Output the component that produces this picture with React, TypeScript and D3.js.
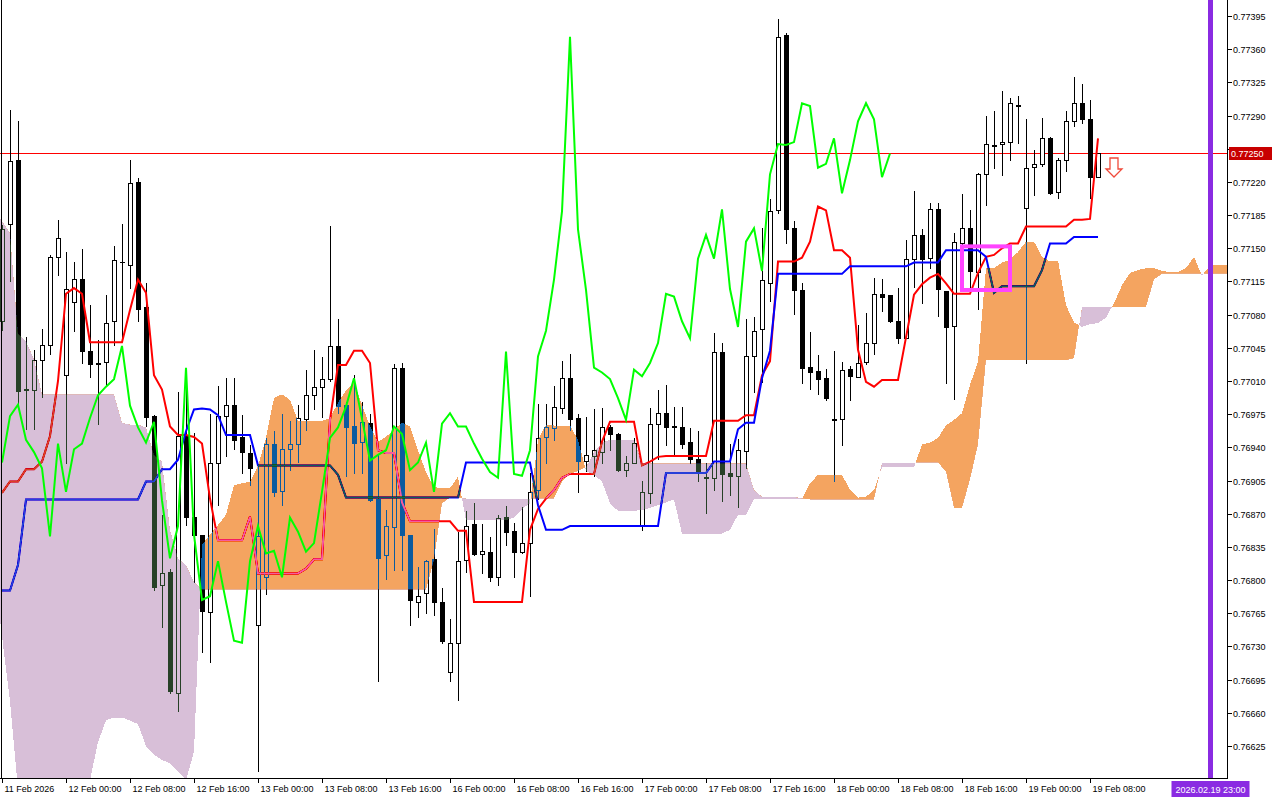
import React from "react";
import * as d3 from "d3";

// ---------- DATA (hourly bars, 11 Feb 2026 16:00 -> 19 Feb 2026 09:00) ----------
const opens = [
  0.77073, 0.77176, 0.77243, 0.77002, 0.77000, 0.77032, 0.77048, 0.77141, 0.77016, 0.77093,
  0.77118, 0.77042, 0.77029, 0.77030, 0.77073, 0.77135, 0.77132, 0.77220, 0.77088, 0.76973,
  0.76795, 0.76809, 0.76681, 0.76953, 0.76867, 0.76848, 0.76766, 0.76923, 0.76973, 0.76985,
  0.76951, 0.76934, 0.76753, 0.76803, 0.76944, 0.76894, 0.76938, 0.76944, 0.76970, 0.76995,
  0.77004, 0.77012, 0.77047, 0.76985, 0.76963, 0.76946, 0.76966, 0.76886, 0.76826, 0.76856,
  0.77024, 0.76848, 0.76777, 0.76786, 0.76822, 0.76777, 0.76703, 0.76734, 0.76821, 0.76859,
  0.76828, 0.76830, 0.76803, 0.76867, 0.76852, 0.76830, 0.76839, 0.76895, 0.76951, 0.76960,
  0.76982, 0.77013, 0.76971, 0.76926, 0.76931, 0.76935, 0.76962, 0.76954, 0.76916, 0.76924,
  0.76857, 0.76892, 0.76965, 0.76976, 0.76963, 0.76961, 0.76946, 0.76928, 0.76909, 0.76908,
  0.77041, 0.76913, 0.76910, 0.76936, 0.77036, 0.77065, 0.77113, 0.77190, 0.77375, 0.77171,
  0.77106, 0.77025, 0.77021, 0.77013, 0.76970, 0.76970, 0.77023, 0.77014, 0.77030, 0.77050,
  0.77102, 0.77101, 0.77073, 0.77055, 0.77139, 0.77164, 0.77140, 0.77191, 0.77105, 0.77068,
  0.77156, 0.77171, 0.77125, 0.77228, 0.77258, 0.77260, 0.77262, 0.77301, 0.77193, 0.77236,
  0.77239, 0.77266, 0.77209, 0.77243, 0.77284, 0.77303, 0.77286, 0.77225,
];
const highs = [
  0.77175, 0.77296, 0.77284, 0.77056, 0.77043, 0.77065, 0.77143, 0.77180, 0.77146, 0.77135,
  0.77149, 0.77090, 0.77053, 0.77101, 0.77152, 0.77176, 0.77243, 0.77224, 0.77113, 0.76974,
  0.76869, 0.76812, 0.76998, 0.77003, 0.76955, 0.76848, 0.76975, 0.77005, 0.77013, 0.77013,
  0.76974, 0.76943, 0.76920, 0.76950, 0.76957, 0.76975, 0.76968, 0.76985, 0.77022, 0.77043,
  0.77035, 0.77173, 0.77075, 0.76988, 0.77016, 0.76988, 0.76975, 0.76932, 0.76874, 0.77028,
  0.77029, 0.76848, 0.76814, 0.76821, 0.76854, 0.76792, 0.76759, 0.76851, 0.76873, 0.76881,
  0.76859, 0.76845, 0.76869, 0.76878, 0.76860, 0.76877, 0.76913, 0.76986, 0.76986, 0.77005,
  0.77031, 0.77039, 0.76975, 0.76972, 0.76980, 0.76982, 0.76964, 0.76955, 0.76931, 0.76950,
  0.76905, 0.76981, 0.77001, 0.77006, 0.76983, 0.76983, 0.76960, 0.76957, 0.76924, 0.77061,
  0.77050, 0.76944, 0.76949, 0.77075, 0.77078, 0.77171, 0.77202, 0.77392, 0.77377, 0.77179,
  0.77113, 0.77062, 0.77037, 0.77023, 0.77042, 0.77030, 0.77026, 0.77069, 0.77082, 0.77119,
  0.77118, 0.77101, 0.77108, 0.77159, 0.77210, 0.77170, 0.77198, 0.77198, 0.77105, 0.77166,
  0.77207, 0.77190, 0.77229, 0.77290, 0.77295, 0.77316, 0.77309, 0.77311, 0.77286, 0.77254,
  0.77287, 0.77267, 0.77245, 0.77295, 0.77331, 0.77323, 0.77306, 0.77250,
];
const lows = [
  0.77064, 0.77115, 0.76986, 0.76959, 0.76959, 0.76993, 0.77039, 0.77122, 0.76923, 0.77063,
  0.77029, 0.77014, 0.76965, 0.77005, 0.77048, 0.77052, 0.77108, 0.77073, 0.76963, 0.76790,
  0.76751, 0.76681, 0.76662, 0.76858, 0.76798, 0.76724, 0.76714, 0.76879, 0.76931, 0.76938,
  0.76913, 0.76900, 0.76599, 0.76785, 0.76889, 0.76879, 0.76916, 0.76925, 0.76958, 0.76980,
  0.76972, 0.77010, 0.76976, 0.76910, 0.76913, 0.76913, 0.76883, 0.76694, 0.76801, 0.76811,
  0.76811, 0.76753, 0.76761, 0.76765, 0.76763, 0.76734, 0.76694, 0.76673, 0.76809, 0.76826,
  0.76808, 0.76799, 0.76795, 0.76837, 0.76803, 0.76829, 0.76783, 0.76886, 0.76923, 0.76948,
  0.76976, 0.76958, 0.76893, 0.76915, 0.76910, 0.76923, 0.76937, 0.76915, 0.76910, 0.76923,
  0.76853, 0.76881, 0.76928, 0.76942, 0.76931, 0.76939, 0.76924, 0.76905, 0.76871, 0.76895,
  0.76883, 0.76890, 0.76877, 0.76918, 0.76998, 0.77009, 0.77094, 0.77187, 0.77156, 0.77081,
  0.77008, 0.77002, 0.76996, 0.76990, 0.76904, 0.76942, 0.76990, 0.77014, 0.77028, 0.77039,
  0.77084, 0.77072, 0.77050, 0.77055, 0.77109, 0.77092, 0.77129, 0.77079, 0.77008, 0.76991,
  0.77148, 0.77106, 0.77086, 0.77196, 0.77235, 0.77227, 0.77243, 0.77261, 0.77029, 0.77206,
  0.77237, 0.77207, 0.77203, 0.77232, 0.77279, 0.77282, 0.77203, 0.77225,
];
const closes = [
  0.77170, 0.77242, 0.76999, 0.77000, 0.77032, 0.77048, 0.77141, 0.77161, 0.77107, 0.77118,
  0.77042, 0.77028, 0.77028, 0.77071, 0.77138, 0.77136, 0.77219, 0.77086, 0.76972, 0.76793,
  0.76807, 0.76683, 0.76952, 0.76867, 0.76848, 0.76767, 0.76924, 0.76973, 0.76985, 0.76948,
  0.76935, 0.76918, 0.76846, 0.76944, 0.76893, 0.76938, 0.76944, 0.76971, 0.76995, 0.77004,
  0.77012, 0.77047, 0.76984, 0.76961, 0.76945, 0.76967, 0.76884, 0.76823, 0.76857, 0.77024,
  0.76848, 0.76779, 0.76783, 0.76820, 0.76777, 0.76736, 0.76734, 0.76820, 0.76857, 0.76828,
  0.76831, 0.76803, 0.76866, 0.76851, 0.76830, 0.76839, 0.76893, 0.76950, 0.76961, 0.76983,
  0.77013, 0.76970, 0.76926, 0.76932, 0.76937, 0.76962, 0.76954, 0.76916, 0.76924, 0.76945,
  0.76893, 0.76965, 0.76976, 0.76962, 0.76962, 0.76944, 0.76928, 0.76914, 0.76908, 0.77041,
  0.76912, 0.76910, 0.76937, 0.77036, 0.77063, 0.77117, 0.77189, 0.77373, 0.77170, 0.77106,
  0.77024, 0.77019, 0.77012, 0.76992, 0.76969, 0.77022, 0.77015, 0.77029, 0.77050, 0.77102,
  0.77099, 0.77073, 0.77055, 0.77139, 0.77164, 0.77139, 0.77191, 0.77107, 0.77067, 0.77157,
  0.77171, 0.77126, 0.77228, 0.77260, 0.77259, 0.77262, 0.77303, 0.77300, 0.77235, 0.77239,
  0.77266, 0.77208, 0.77243, 0.77284, 0.77303, 0.77286, 0.77225, 0.77250,
];
const tenkan = [
  0.76892, 0.76904, 0.76904, 0.76917, 0.76917, 0.76925, 0.76952, 0.77010, 0.77102, 0.77108,
  0.77102, 0.77051, 0.77051, 0.77051, 0.77051, 0.77051, 0.77085, 0.77117, 0.77103, 0.77016,
  0.77001, 0.76962, 0.76953, 0.76953, 0.76951, 0.76944, 0.76886, 0.76842, 0.76842, 0.76842,
  0.76842, 0.76867, 0.76807, 0.76807, 0.76807, 0.76807, 0.76807, 0.76807, 0.76812, 0.76822,
  0.76822, 0.76969, 0.77027, 0.77027, 0.77042, 0.77042, 0.77029, 0.76937, 0.76934, 0.76934,
  0.76882, 0.76862, 0.76862, 0.76862, 0.76862, 0.76862, 0.76862, 0.76852, 0.76852, 0.76777,
  0.76777, 0.76777, 0.76777, 0.76777, 0.76777, 0.76777, 0.76853, 0.76875, 0.76886, 0.76895,
  0.76908, 0.76912, 0.76912, 0.76912, 0.76912, 0.76946, 0.76967, 0.76967, 0.76967, 0.76967,
  0.76921, 0.76925, 0.76930, 0.76931, 0.76931, 0.76931, 0.76931, 0.76931, 0.76931, 0.76968,
  0.76968, 0.76968, 0.76968, 0.76974, 0.76974, 0.77016, 0.77031, 0.77136, 0.77136, 0.77136,
  0.77140, 0.77157, 0.77194, 0.77190, 0.77148, 0.77148, 0.77140, 0.77043, 0.77009, 0.77004,
  0.77011, 0.77011, 0.77011, 0.77056, 0.77101, 0.77112, 0.77119, 0.77123, 0.77113, 0.77102,
  0.77102, 0.77102, 0.77124, 0.77141, 0.77143, 0.77150, 0.77155, 0.77155, 0.77173, 0.77173,
  0.77173, 0.77173, 0.77173, 0.77173, 0.77180, 0.77180, 0.77181, 0.77266,
];
const kijun = [
  0.76789, 0.76789, 0.76816, 0.76885, 0.76885, 0.76885, 0.76885, 0.76885, 0.76885, 0.76885,
  0.76885, 0.76885, 0.76885, 0.76885, 0.76885, 0.76885, 0.76885, 0.76885, 0.76904, 0.76904,
  0.76917, 0.76917, 0.76927, 0.76957, 0.76980, 0.76981, 0.76980, 0.76974, 0.76953, 0.76953,
  0.76953, 0.76953, 0.76921, 0.76921, 0.76921, 0.76921, 0.76921, 0.76921, 0.76921, 0.76921,
  0.76921, 0.76921, 0.76911, 0.76887, 0.76887, 0.76887, 0.76887, 0.76887, 0.76887, 0.76887,
  0.76887, 0.76887, 0.76887, 0.76887, 0.76887, 0.76887, 0.76887, 0.76887, 0.76924, 0.76924,
  0.76924, 0.76924, 0.76924, 0.76924, 0.76924, 0.76924, 0.76924, 0.76879, 0.76853, 0.76853,
  0.76853, 0.76857, 0.76857, 0.76857, 0.76857, 0.76857, 0.76857, 0.76857, 0.76857, 0.76857,
  0.76857, 0.76857, 0.76857, 0.76913, 0.76913, 0.76913, 0.76913, 0.76913, 0.76913, 0.76925,
  0.76925, 0.76925, 0.76959, 0.76966, 0.76966, 0.77013, 0.77042, 0.77123, 0.77123, 0.77123,
  0.77123, 0.77123, 0.77123, 0.77123, 0.77123, 0.77123, 0.77131, 0.77131, 0.77131, 0.77131,
  0.77131, 0.77131, 0.77131, 0.77131, 0.77135, 0.77135, 0.77135, 0.77135, 0.77148, 0.77148,
  0.77148, 0.77148, 0.77148, 0.77141, 0.77103, 0.77110, 0.77110, 0.77110, 0.77110, 0.77110,
  0.77127, 0.77155, 0.77155, 0.77155, 0.77162, 0.77162, 0.77162, 0.77162,
];
// Senkou spans as drawn (already shifted 26 bars forward), bars 0..154
const spanA = [
  0.76758, 0.76672, 0.76579, 0.76568, 0.76568, 0.76568, 0.76568, 0.76568, 0.76568, 0.76568,
  0.76568, 0.76589, 0.76629, 0.76652, 0.76655, 0.76655, 0.76652, 0.76648, 0.76625, 0.76616,
  0.76610, 0.76607, 0.76598, 0.76589, 0.76619, 0.76837, 0.76848, 0.76858, 0.76869, 0.76900,
  0.76902, 0.76904, 0.76920, 0.76950, 0.76992, 0.76996, 0.76990, 0.76968, 0.76968, 0.76968,
  0.76968, 0.76971, 0.76987, 0.77000, 0.77008, 0.76985, 0.76962, 0.76946, 0.76951, 0.76959,
  0.76966, 0.76962, 0.76937, 0.76914, 0.76898, 0.76897, 0.76897, 0.76909, 0.76863, 0.76863,
  0.76863, 0.76863, 0.76863, 0.76863, 0.76866, 0.76875, 0.76881, 0.76948, 0.76964, 0.76963,
  0.76963, 0.76963, 0.76948, 0.76915, 0.76911, 0.76904, 0.76881, 0.76873, 0.76873, 0.76873,
  0.76874, 0.76876, 0.76879, 0.76882, 0.76885, 0.76849, 0.76849, 0.76849, 0.76849, 0.76849,
  0.76849, 0.76853, 0.76869, 0.76869, 0.76885, 0.76886, 0.76886, 0.76886, 0.76886, 0.76886,
  0.76885, 0.76902, 0.76911, 0.76911, 0.76911, 0.76911, 0.76895, 0.76887, 0.76888, 0.76895,
  0.76919, 0.76919, 0.76919, 0.76919, 0.76919, 0.76943, 0.76945, 0.76950, 0.76963, 0.76969,
  0.76976, 0.77006, 0.77030, 0.77129, 0.77129, 0.77135, 0.77138, 0.77146, 0.77157, 0.77157,
  0.77141, 0.77136, 0.77137, 0.77090, 0.77072, 0.77067, 0.77070, 0.77071, 0.77077, 0.77092,
  0.77111, 0.77124, 0.77127, 0.77129, 0.77129, 0.77126, 0.77125, 0.77125, 0.77129, 0.77141,
  0.77121, 0.77132, 0.77132, 0.77132, 0.77132,
];
const spanB = [
  0.77182, 0.77166, 0.77060, 0.77052, 0.77033, 0.76996, 0.76996, 0.76996, 0.76996, 0.76996,
  0.76996, 0.76996, 0.76996, 0.76996, 0.76996, 0.76966, 0.76964, 0.76964, 0.76961, 0.76932,
  0.76925, 0.76853, 0.76823, 0.76816, 0.76798, 0.76790, 0.76790, 0.76790, 0.76790, 0.76790,
  0.76790, 0.76790, 0.76790, 0.76790, 0.76790, 0.76790, 0.76790, 0.76790, 0.76790, 0.76790,
  0.76790, 0.76790, 0.76790, 0.76790, 0.76790, 0.76790, 0.76790, 0.76790, 0.76790, 0.76790,
  0.76790, 0.76790, 0.76790, 0.76790, 0.76821, 0.76881, 0.76887, 0.76887, 0.76886, 0.76886,
  0.76886, 0.76886, 0.76886, 0.76886, 0.76886, 0.76886, 0.76886, 0.76886, 0.76886, 0.76886,
  0.76904, 0.76912, 0.76915, 0.76919, 0.76935, 0.76945, 0.76948, 0.76948, 0.76948, 0.76948,
  0.76923, 0.76923, 0.76923, 0.76923, 0.76923, 0.76923, 0.76923, 0.76923, 0.76923, 0.76923,
  0.76923, 0.76923, 0.76923, 0.76923, 0.76895, 0.76888, 0.76888, 0.76888, 0.76888, 0.76888,
  0.76886, 0.76885, 0.76885, 0.76885, 0.76885, 0.76885, 0.76885, 0.76885, 0.76885, 0.76885,
  0.76924, 0.76924, 0.76924, 0.76924, 0.76924, 0.76924, 0.76924, 0.76924, 0.76914, 0.76876,
  0.76876, 0.76906, 0.76943, 0.77032, 0.77032, 0.77032, 0.77032, 0.77032, 0.77032, 0.77032,
  0.77032, 0.77032, 0.77032, 0.77032, 0.77034, 0.77088, 0.77088, 0.77088, 0.77088, 0.77088,
  0.77088, 0.77088, 0.77088, 0.77088, 0.77117, 0.77123, 0.77123, 0.77123, 0.77123, 0.77123,
  0.77123, 0.77123, 0.77123, 0.77123, 0.77123,
];
const CHIKOU_SHIFT = 26;

const priceTicks = [
  0.76625, 0.7666, 0.76695, 0.7673, 0.76765, 0.768, 0.76835, 0.7687, 0.76905, 0.7694,
  0.76975, 0.7701, 0.77045, 0.7708, 0.77115, 0.7715, 0.77185, 0.7722, 0.77255, 0.7729,
  0.77325, 0.7736, 0.77395,
];
const timeTickBars = [0, 8, 16, 24, 32, 40, 48, 56, 64, 72, 80, 88, 96, 104, 112, 120, 128, 136];
const timeTickLabels = [
  "11 Feb 2026", "12 Feb 00:00", "12 Feb 08:00", "12 Feb 16:00", "13 Feb 00:00", "13 Feb 08:00",
  "13 Feb 16:00", "16 Feb 00:00", "16 Feb 08:00", "16 Feb 16:00", "17 Feb 00:00", "17 Feb 08:00",
  "17 Feb 16:00", "18 Feb 00:00", "18 Feb 08:00", "18 Feb 16:00", "19 Feb 00:00", "19 Feb 08:00",
];
const bidPrice = 0.7725;
const vLineBar = 151;
const vLineLabel = "2026.02.19 23:00";
const rectBars = [120, 126];
const rectPrices = [0.77152, 0.77106];
const arrowBar = 139;
const arrowPrice = 0.77245;

const FONT = "'Liberation Sans', Arial, sans-serif";

export default function App() {
  const W = 1280;
  const H = 800;
  const plotR = 1227;
  const plotB = 778;

  const x = d3.scaleLinear().domain([0, 153]).range([2, 1226]);
  const y = d3.scaleLinear().domain([0.76625, 0.77395]).range([746, 16]);

  const bars = d3.range(closes.length);
  const cloudIdx = d3.range(spanA.length);
  const chikou = closes.slice(CHIKOU_SHIFT);

  const line = d3
    .line<number>()
    .x((_, i) => x(i))
    .y((v) => y(v));

  // first cloud column is carried to the left frame edge
  const cx = (i: number) => (i === 0 ? 0 : x(i));
  const between = d3
    .area<number>()
    .x(cx)
    .y0((i) => y(spanB[i]))
    .y1((i) => y(spanA[i]))(cloudIdx) as string;
  const aboveB = d3
    .area<number>()
    .x(cx)
    .y0(-50)
    .y1((i) => y(spanB[i]))(cloudIdx) as string;
  const belowB = d3
    .area<number>()
    .x(cx)
    .y0((i) => y(spanB[i]))
    .y1(900)(cloudIdx) as string;

  const ax = x(arrowBar);
  const ay = Math.round(y(arrowPrice));
  const arrowPath = `M${ax - 4},${ay} L${ax + 4},${ay} L${ax + 4},${ay + 11} L${ax + 8},${ay + 11} L${ax},${ay + 19} L${ax - 8},${ay + 11} L${ax - 4},${ay + 11} Z`;

  const bidY = Math.round(y(bidPrice)) + 0.5;
  const vx = x(vLineBar) + 0.5;

  return (
    <svg
      width={W}
      height={H}
      style={{ position: "absolute", left: 0, top: 0, display: "block" }}
      fontFamily={FONT}
    >
      <defs>
        <clipPath id="plot">
          <rect x={0} y={0} width={plotR} height={plotB} />
        </clipPath>
        <clipPath id="upKumo">
          <path d={aboveB} />
        </clipPath>
        <clipPath id="downKumo">
          <path d={belowB} />
        </clipPath>
      </defs>
      <rect x={0} y={0} width={W} height={H} fill="#ffffff" />

      <g clipPath="url(#plot)">
        {/* white backdrop inside the clipped (isolated) group, needed for the blend */}
        <rect x={0} y={0} width={plotR} height={plotB} fill="#ffffff" />

        {/* bid line */}
        <line x1={0} x2={plotR} y1={bidY} y2={bidY} stroke="#ff0000" strokeWidth={1} shapeRendering="crispEdges" />

        {/* candles */}
        <g shapeRendering="crispEdges">
          {bars.map((i) => {
            const xc = Math.round(x(i));
            const o = opens[i];
            const c = closes[i];
            const yH = Math.round(y(highs[i]));
            const yL = Math.round(y(lows[i]));
            const yT = Math.round(y(Math.max(o, c)));
            const yB = Math.round(y(Math.min(o, c)));
            const bull = c > o;
            return (
              <g key={i}>
                <rect x={xc} y={yH} width={1} height={Math.max(1, yL - yH + 1)} fill="#000" />
                {yB - yT < 1 ? (
                  <rect x={xc - 2} y={yT} width={5} height={1} fill="#000" />
                ) : bull ? (
                  <rect x={xc - 1.5} y={yT + 0.5} width={4} height={yB - yT} fill="#fff" stroke="#000" strokeWidth={1} />
                ) : (
                  <rect x={xc - 2} y={yT} width={5} height={yB - yT + 1} fill="#000" />
                )}
              </g>
            );
          })}
        </g>

        {/* Tenkan & Kijun */}
        <path d={line(tenkan) as string} fill="none" stroke="#ff0000" strokeWidth={2} />
        <path d={line(kijun) as string} fill="none" stroke="#0000ff" strokeWidth={2} />

        {/* Kumo drawn in XOR-like fashion (difference blend with inverted colours) */}
        <path
          d={between}
          fill="#0b5b9f"
          clipPath="url(#upKumo)"
          style={{ mixBlendMode: "difference" }}
          shapeRendering="crispEdges"
        />
        <path
          d={between}
          fill="#274027"
          clipPath="url(#downKumo)"
          style={{ mixBlendMode: "difference" }}
          shapeRendering="crispEdges"
        />

        {/* Chikou */}
        <path d={line(chikou) as string} fill="none" stroke="#00ff00" strokeWidth={2} />

        {/* rectangle object */}
        <rect
          x={x(rectBars[0])}
          y={y(rectPrices[0])}
          width={x(rectBars[1]) - x(rectBars[0])}
          height={y(rectPrices[1]) - y(rectPrices[0])}
          fill="none"
          stroke="#ff44ff"
          strokeWidth={4}
        />

        {/* sell arrow */}
        <path d={arrowPath} fill="#ffffff" stroke="#f04a3a" strokeWidth={1.3} />

        {/* vertical line */}
        <line x1={vx} x2={vx} y1={0} y2={plotB} stroke="#8a2be2" strokeWidth={5} />
      </g>

      {/* frame */}
      <g shapeRendering="crispEdges">
        <line x1={1.5} x2={1.5} y1={0} y2={plotB} stroke="#000" />
        <line x1={plotR + 0.5} x2={plotR + 0.5} y1={0} y2={plotB + 1} stroke="#000" />
        <line x1={0} x2={plotR + 1} y1={plotB + 0.5} y2={plotB + 0.5} stroke="#000" />
      </g>

      {/* price axis */}
      <g fontSize={9} fill="#000">
        {priceTicks.map((p) => {
          const ty = Math.round(y(p)) + 0.5;
          return (
            <g key={p}>
              <line x1={plotR} x2={plotR + 5} y1={ty} y2={ty} stroke="#000" shapeRendering="crispEdges" />
              <text x={plotR + 6} y={ty + 3.5}>
                {p.toFixed(5)}
              </text>
            </g>
          );
        })}
      </g>
      {/* bid label */}
      <rect x={plotR + 2} y={bidY - 6.5} width={43} height={13} fill="#c80000" />
      <text x={plotR + 4} y={bidY + 3.5} fontSize={9} fill="#ffffff">
        {bidPrice.toFixed(5)}
      </text>

      {/* time axis */}
      <g fontSize={9} fill="#000">
        {timeTickBars.map((b, k) => {
          const tx = Math.round(x(b)) + 0.5;
          return (
            <g key={b}>
              <line x1={tx} x2={tx} y1={plotB} y2={plotB + 5} stroke="#000" shapeRendering="crispEdges" />
              <text x={tx + 2} y={792}>
                {timeTickLabels[k]}
              </text>
            </g>
          );
        })}
      </g>
      {/* vertical line label */}
      <rect x={vx - 39} y={781} width={78} height={16} fill="#8a2be2" />
      <text x={vx} y={792.5} fontSize={9} fill="#ffffff" textAnchor="middle">
        {vLineLabel}
      </text>
    </svg>
  );
}
